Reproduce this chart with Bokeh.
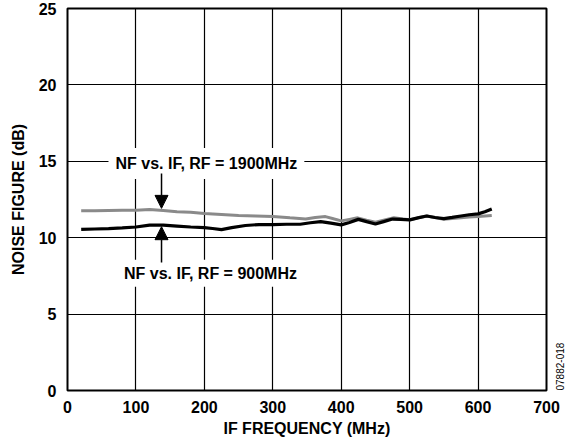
from bokeh.plotting import figure
from bokeh.models import FixedTicker, Label, Arrow, NormalHead, Range1d, LinearAxis
from bokeh.embed import file_html
from bokeh.resources import INLINE
import math

# Data
if_900 = [20, 40, 60, 80, 100, 120, 140, 160, 180, 200, 212, 225, 240, 260, 280, 300,
          320, 340, 355, 370, 385, 400, 412, 425, 437, 450, 462, 475, 487, 500, 512,
          525, 537, 550, 562, 575, 587, 600, 610, 620]
nf_900 = [10.54, 10.57, 10.60, 10.64, 10.70, 10.82, 10.82, 10.76, 10.70, 10.66, 10.60,
          10.53, 10.66, 10.80, 10.86, 10.86, 10.88, 10.88, 10.98, 11.05, 10.95, 10.84,
          11.00, 11.20, 11.05, 10.90, 11.05, 11.22, 11.20, 11.17, 11.30, 11.42, 11.32,
          11.25, 11.33, 11.42, 11.50, 11.56, 11.70, 11.88]

if_1900 = [20, 40, 60, 80, 100, 120, 140, 160, 180, 200, 225, 250, 275, 300, 325, 348,
           362, 377, 390, 400, 412, 424, 437, 450, 462, 477, 490, 501, 512, 525, 537,
           550, 562, 575, 587, 600, 610, 620]
nf_1900 = [11.76, 11.76, 11.78, 11.79, 11.80, 11.84, 11.78, 11.70, 11.66, 11.58, 11.52,
           11.45, 11.42, 11.39, 11.30, 11.23, 11.32, 11.38, 11.22, 11.10, 11.20, 11.30,
           11.15, 11.02, 11.15, 11.30, 11.22, 11.17, 11.30, 11.42, 11.32, 11.20, 11.25,
           11.30, 11.35, 11.38, 11.42, 11.46]

x_ticks = [0, 100, 200, 300, 400, 500, 600, 700]
y_ticks = [0, 5, 10, 15, 20, 25]

FONT = "Liberation Sans"

p = figure(width=571, height=443, output_backend="svg", toolbar_location=None,
           x_range=Range1d(0, 700), y_range=Range1d(0, 25),
           min_border_left=67, min_border_right=25, min_border_top=8, min_border_bottom=53)
p.background_fill_color = "white"
p.border_fill_color = "white"
p.outline_line_color = "black"
p.outline_line_width = 2

for ax in (p.xaxis[0], p.yaxis[0]):
    ax.major_label_text_font = FONT
    ax.major_label_text_font_style = "bold"
    ax.major_label_text_font_size = "16px"
    ax.major_label_text_color = "black"
    ax.axis_label_text_font = FONT
    ax.axis_label_text_font_style = "bold"
    ax.axis_label_text_font_size = "16px"
    ax.axis_label_text_color = "black"
    ax.major_tick_out = 0
    ax.major_tick_in = 0
    ax.minor_tick_out = 0
    ax.minor_tick_in = 0
    ax.axis_line_color = None

p.xaxis.ticker = FixedTicker(ticks=x_ticks)
p.yaxis.ticker = FixedTicker(ticks=y_ticks)
p.xaxis.axis_label = "IF FREQUENCY (MHz)"
p.yaxis.axis_label = "NOISE FIGURE (dB)"
p.xaxis.major_label_standoff = 10
p.yaxis.major_label_standoff = 11
p.xaxis.axis_label_standoff = 4
p.yaxis.axis_label_standoff = 9

p.xgrid.ticker = FixedTicker(ticks=x_ticks)
p.ygrid.ticker = FixedTicker(ticks=y_ticks)
p.grid.grid_line_color = "black"
p.grid.grid_line_width = 1.2
p.grid.grid_line_alpha = 1

p.line(if_1900, nf_1900, line_color="#8a8a8a", line_width=3)
p.line(if_900, nf_900, line_color="black", line_width=3.2)

lbl_top = Label(x=203, y=14.86, text="NF vs. IF, RF = 1900MHz",
                text_align="center", text_baseline="middle", text_color="black",
                text_font=FONT, text_font_style="bold", text_font_size="16px",
                background_fill_color="white", padding=7)
lbl_bot = Label(x=209, y=7.68, text="NF vs. IF, RF = 900MHz",
                text_align="center", text_baseline="middle", text_color="black",
                text_font=FONT, text_font_style="bold", text_font_size="16px",
                background_fill_color="white", padding=5)
p.add_layout(lbl_top)
p.add_layout(lbl_bot)

p.add_layout(Arrow(end=NormalHead(size=13, fill_color="black", line_color="black"),
                   x_start=137.4, y_start=14.2, x_end=137.4, y_end=11.92,
                   line_width=1.5, line_color="black"))
p.add_layout(Arrow(end=NormalHead(size=13, fill_color="black", line_color="black"),
                   x_start=137.4, y_start=8.38, x_end=137.4, y_end=10.72,
                   line_width=1.5, line_color="black"))

# figure code, drawn as the label of an extra right axis, aligned to the bottom
code_axis = LinearAxis(axis_label="07882-018",
                       ticker=FixedTicker(ticks=[]), axis_line_color=None,
                       major_tick_out=0, major_tick_in=0, minor_tick_out=0, minor_tick_in=0,
                       major_label_text_font_size="0px",
                       axis_label_text_font=FONT, axis_label_text_font_size="10px",
                       axis_label_text_font_style="normal", axis_label_text_color="black",
                       axis_label_standoff=13, axis_label_orientation=math.pi / 2,
                       axis_label_align="start")
p.add_layout(code_axis, "right")

open("out.html", "w").write(file_html(p, INLINE))
